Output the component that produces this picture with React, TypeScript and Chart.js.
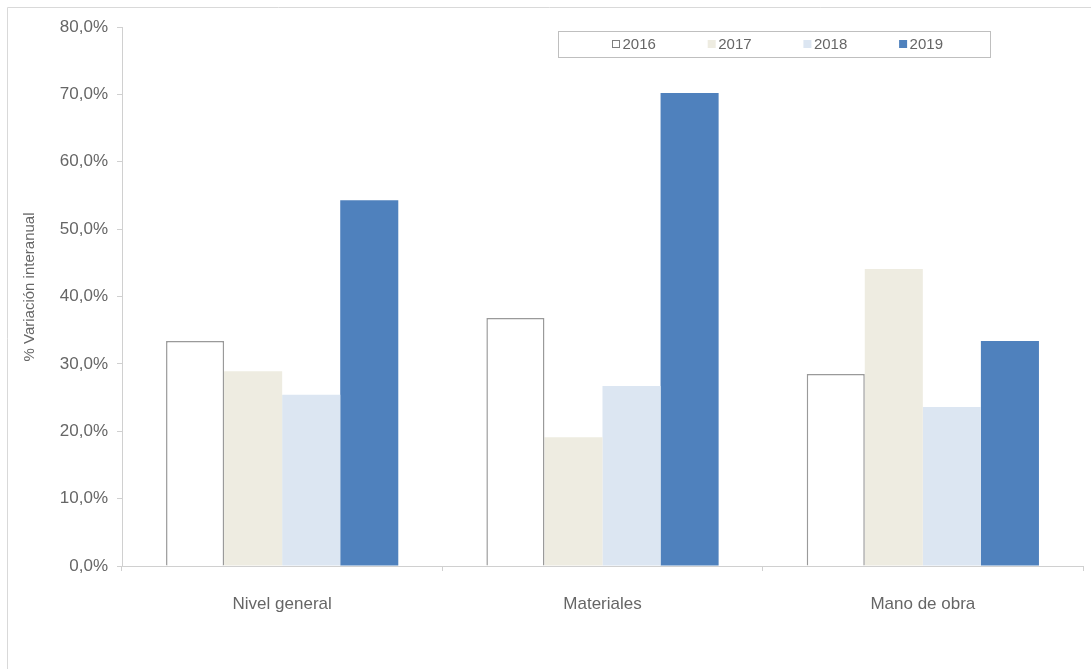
import React, { useEffect, useRef } from "react";
import { Chart, registerables } from "chart.js";

Chart.register(...registerables);

const categories = ["Nivel general", "Materiales", "Mano de obra"];
const seriesLabels = ["2016", "2017", "2018", "2019"];
const values2016 = [33.4, 36.8, 28.5];
const values2017 = [28.9, 19.1, 44.1];
const values2018 = [25.4, 26.7, 23.6];
const values2019 = [54.3, 70.2, 33.4];
const yTicks = [0, 10, 20, 30, 40, 50, 60, 70, 80];
const yTitle = "% Variación interanual";

const fills = ["#ffffff", "#eeece1", "#dce6f2", "#4f81bd"];
const borders = ["#9a9a9a", "#eeece1", "#dce6f2", "#4f81bd"];
const TEXT = "#666666";
const AXIS = "#d0d0d0";

const fmt = (v: number) => v.toFixed(1).replace(".", ",") + "%";

const decorPlugin = {
  id: "decor",
  afterDraw(chart: any) {
    const ctx = chart.ctx;
    ctx.save();
    // outer frame
    ctx.strokeStyle = "#d9d9d9";
    ctx.lineWidth = 1;
    ctx.beginPath();
    ctx.moveTo(7.5, 700);
    ctx.lineTo(7.5, 7.5);
    ctx.lineTo(1100, 7.5);
    ctx.stroke();

    // y title
    ctx.fillStyle = TEXT;
    ctx.font = "15px 'Liberation Sans', Arial, sans-serif";
    ctx.textAlign = "center";
    ctx.textBaseline = "middle";
    ctx.translate(30, 287);
    ctx.rotate(-Math.PI / 2);
    ctx.fillText(yTitle, 0, 0);
    ctx.setTransform(1, 0, 0, 1, 0, 0);

    // legend
    ctx.strokeStyle = "#bfbfbf";
    ctx.strokeRect(558.5, 31.5, 432, 26);
    ctx.font = "15px 'Liberation Sans', Arial, sans-serif";
    ctx.textAlign = "left";
    chart.data.datasets.forEach((ds: any, i: number) => {
      const x = 612 + i * 95.7;
      const y = 40;
      ctx.fillStyle = ds.backgroundColor;
      ctx.fillRect(x, y, 8, 8);
      if (i === 0) {
        ctx.strokeStyle = "#7f7f7f";
        ctx.strokeRect(Math.round(x) + 0.5, y + 0.5, 7, 7);
      }
      ctx.fillStyle = TEXT;
      ctx.fillText(ds.label, x + 10.5, 44.5);
    });
    ctx.restore();
  },
};

export default function App() {
  const ref = useRef<HTMLCanvasElement | null>(null);
  useEffect(() => {
    if (!ref.current) return;
    const series = [values2016, values2017, values2018, values2019];
    const chart = new Chart(ref.current, {
      type: "bar",
      data: {
        labels: categories,
        datasets: series.map((vals, i) => ({
          label: seriesLabels[i],
          data: vals,
          backgroundColor: fills[i],
          borderColor: borders[i],
          borderWidth: i === 0 ? 1.5 : 0,
          categoryPercentage: 0.725,
          barPercentage: 1,
        })),
      },
      options: {
        animation: false,
        responsive: false,
        devicePixelRatio: 1,
        layout: { padding: { left: 8, right: 8, top: 27, bottom: 43 } },
        plugins: {
          legend: { display: false },
          tooltip: { enabled: false },
          title: { display: false },
        },
        scales: {
          x: {
            afterFit: (s: any) => {
              s.height = 60;
            },
            grid: {
              drawOnChartArea: false,
              drawTicks: true,
              tickLength: 5,
              color: AXIS,
              offset: true,
            },
            border: { color: AXIS },
            ticks: {
              color: TEXT,
              padding: 23,
              font: { family: "'Liberation Sans', Arial, sans-serif", size: 17 },
            },
          },
          y: {
            min: 0,
            max: 80,
            afterFit: (s: any) => {
              s.width = 114;
            },
            afterBuildTicks: (s: any) => {
              s.ticks = yTicks.map((v) => ({ value: v }));
            },
            grid: {
              drawOnChartArea: false,
              drawTicks: true,
              tickLength: 5,
              color: AXIS,
            },
            border: { color: AXIS },
            ticks: {
              color: TEXT,
              padding: 9,
              callback: (v: any) => fmt(Number(v)),
              font: { family: "'Liberation Sans', Arial, sans-serif", size: 17 },
            },
          },
        },
      },
      plugins: [decorPlugin],
    });
    return () => chart.destroy();
  }, []);

  return (
    <div style={{ position: "fixed", left: 0, top: 0, width: 1091, height: 669, background: "#fff" }}>
      <canvas ref={ref} width={1091} height={669} />
    </div>
  );
}
